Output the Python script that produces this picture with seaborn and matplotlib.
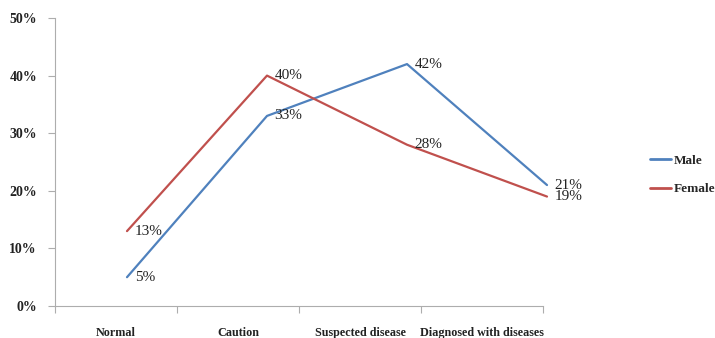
import matplotlib
matplotlib.use("Agg")
import matplotlib.pyplot as plt
from matplotlib.lines import Line2D
import seaborn as sns
import pandas as pd

categories = ["Normal", "Caution", "Suspected disease", "Diagnosed with diseases"]
male = [5, 33, 42, 21]
female = [13, 40, 28, 19]
series_names = ["Male", "Female"]
y_ticks = [0, 10, 20, 30, 40, 50]

colors = {"Male": "#4F81BD", "Female": "#C0504D"}
serif = ["Liberation Serif", "DejaVu Serif"]
axis_gray = "#ADADAD"

sns.set_theme(style="white")
plt.rcParams["font.family"] = serif

df = pd.DataFrame({
    "category": categories * 2,
    "value": male + female,
    "sex": ["Male"] * len(male) + ["Female"] * len(female),
})
df["pos"] = df["category"].map({c: i for i, c in enumerate(categories)})

fig = plt.figure(figsize=(7.15, 3.38), dpi=100)
rect = [55 / 715, 32 / 338, (543 - 55) / 715, (306 - 18) / 338]

# Frame axis: category bands with boundary ticks
ax = fig.add_axes(rect)
ax.set_xlim(0, len(categories))
ax.set_ylim(0, 50)
ax.set_xticks(range(len(categories) + 1))
ax.set_xticklabels([])
ax.set_xticks([i + 0.5 for i in range(len(categories))], minor=True)
ax.set_xticklabels(categories, minor=True, fontsize=8.7, fontweight="bold",
                   color="#222222")
ax.tick_params(axis="x", which="minor", length=0, pad=15)
ax.tick_params(axis="x", which="major", length=5, width=0.8, color=axis_gray,
               direction="out", bottom=True)
ax.set_yticks(y_ticks)
ax.set_yticklabels([f"{t}%" for t in y_ticks], fontsize=10, fontweight="bold",
                   color="#222222")
ax.tick_params(axis="y", length=5, width=0.8, color=axis_gray, direction="out",
               left=True, pad=8)
for side in ["top", "right"]:
    ax.spines[side].set_visible(False)
for side in ["left", "bottom"]:
    ax.spines[side].set_color(axis_gray)
    ax.spines[side].set_linewidth(0.8)
ax.set_xlabel("")
ax.set_ylabel("")

# Line axis: the two series
ax2 = fig.add_axes(rect, frameon=False)
sns.lineplot(data=df, x="pos", y="value", hue="sex", hue_order=series_names,
             palette=colors, linewidth=1.6, ax=ax2, legend=False, sort=False)
for line in ax2.lines:
    line.set_clip_on(False)
ax2.set_xlim(-72 / 140, 3 - 4 / 140)
ax2.set_ylim(0, 50)
ax2.set_xticks([])
ax2.set_yticks([])
ax2.set_xlabel("")
ax2.set_ylabel("")

for vals in (male, female):
    for i, v in enumerate(vals):
        ax2.annotate(f"{v}%", (i, v), xytext=(5.5, 0), textcoords="offset points",
                     ha="left", va="center", fontsize=11, color="#222222",
                     annotation_clip=False)

handles = [Line2D([], [], color=colors[n], linewidth=2) for n in series_names]
fig.legend(handles, series_names, loc="center left",
           bbox_to_anchor=(645 / 715, (338 - 175) / 338), frameon=False,
           handlelength=1.6, handletextpad=0.15, labelspacing=1.2,
           borderpad=0.2, borderaxespad=0.2,
           prop={"family": serif, "size": 9.5, "weight": "bold"})

fig.savefig("out.png", dpi=100)
